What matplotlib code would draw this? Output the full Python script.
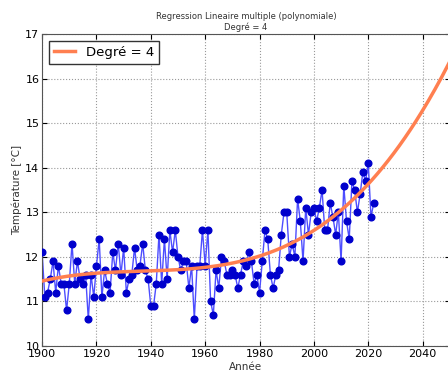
import numpy as np
import matplotlib
matplotlib.use("Agg")
from matplotlib import pyplot as plt

years = np.arange(1900, 2023)
temps = np.array([
    12.1, 11.1, 11.2, 11.5, 11.9, 11.2, 11.8, 11.4, 11.4, 10.8,
    11.4, 12.3, 11.4, 11.9, 11.5, 11.4, 11.6, 10.6, 11.6, 11.1,
    11.8, 12.4, 11.1, 11.7, 11.4, 11.2, 12.1, 11.7, 12.3, 11.6,
    12.2, 11.2, 11.5, 11.6, 12.2, 11.7, 11.8, 12.3, 11.7, 11.5,
    10.9, 10.9, 11.4, 12.5, 11.4, 12.4, 11.5, 12.6, 12.1, 12.6,
    12.0, 11.7, 11.9, 11.9, 11.3, 11.8, 10.6, 11.8, 11.8, 12.6,
    11.8, 12.6, 11.0, 10.7, 11.7, 11.3, 12.0, 11.9, 11.6, 11.6,
    11.7, 11.6, 11.3, 11.6, 11.9, 11.8, 12.1, 11.9, 11.4, 11.6,
    11.2, 11.9, 12.6, 12.4, 11.6, 11.3, 11.6, 11.7, 12.5, 13.0,
    13.0, 12.0, 12.3, 12.0, 13.3, 12.8, 11.9, 13.1, 12.5, 13.0,
    13.1, 12.8, 13.1, 13.5, 12.6, 12.6, 13.2, 12.9, 12.5, 13.0,
    11.9, 13.6, 12.8, 12.4, 13.7, 13.5, 13.0, 13.4, 13.9, 13.7,
    14.1, 12.9, 13.2,
])

# courbe de regression (tous les 10 ans)
courbe_annees = np.arange(1900, 2051, 10)
courbe_temps = np.array([11.47, 11.56, 11.62, 11.67, 11.70, 11.72, 11.77, 11.87,
                         12.00, 12.24, 12.62, 13.02, 13.64, 14.40, 15.27, 16.38])
degre = 4

poly = np.polynomial.Polynomial.fit(courbe_annees, courbe_temps, degre)
x_fit = np.linspace(courbe_annees[0], courbe_annees[-1], 300)
y_fit = poly(x_fit)

fig = plt.figure(figsize=(4.48, 3.77), dpi=100)
ax = fig.add_axes([0.094, 0.082, 0.91, 0.828])

ax.plot(years, temps, '-', color='#4d4dff', linewidth=1, zorder=2)
ax.plot(years, temps, 'o', color='#0000cc', markersize=4.8, zorder=3)
ax.plot(x_fit, y_fit, color='#ff7f50', linewidth=2.5, label='Degré = %d' % degre, zorder=4)

ax.set_xlim(1900, 2050)
ax.set_ylim(10, 17)
ax.set_xticks(range(1900, 2041, 20))
ax.grid(True, linestyle=':', color='#999999', linewidth=0.8)
ax.tick_params(direction='in', top=True, right=True, labelsize=8, pad=2)
for s in ax.spines.values():
    s.set_color('#555555')
ax.set_xlabel('Année', fontsize=7.5, color='#333333', labelpad=2)
ax.set_ylabel('Température [°C]', fontsize=7.5, color='#333333', labelpad=2)
ax.set_title('Regression Lineaire multiple (polynomiale)\nDegré = %d' % degre,
             fontsize=6, color='#333333', pad=3)
leg = ax.legend(loc='upper left', fontsize=9.5, fancybox=False, handlelength=1.6,
                borderpad=0.4, framealpha=1)
leg.get_frame().set_edgecolor('#333333')

fig.savefig('out.png', dpi=100)
